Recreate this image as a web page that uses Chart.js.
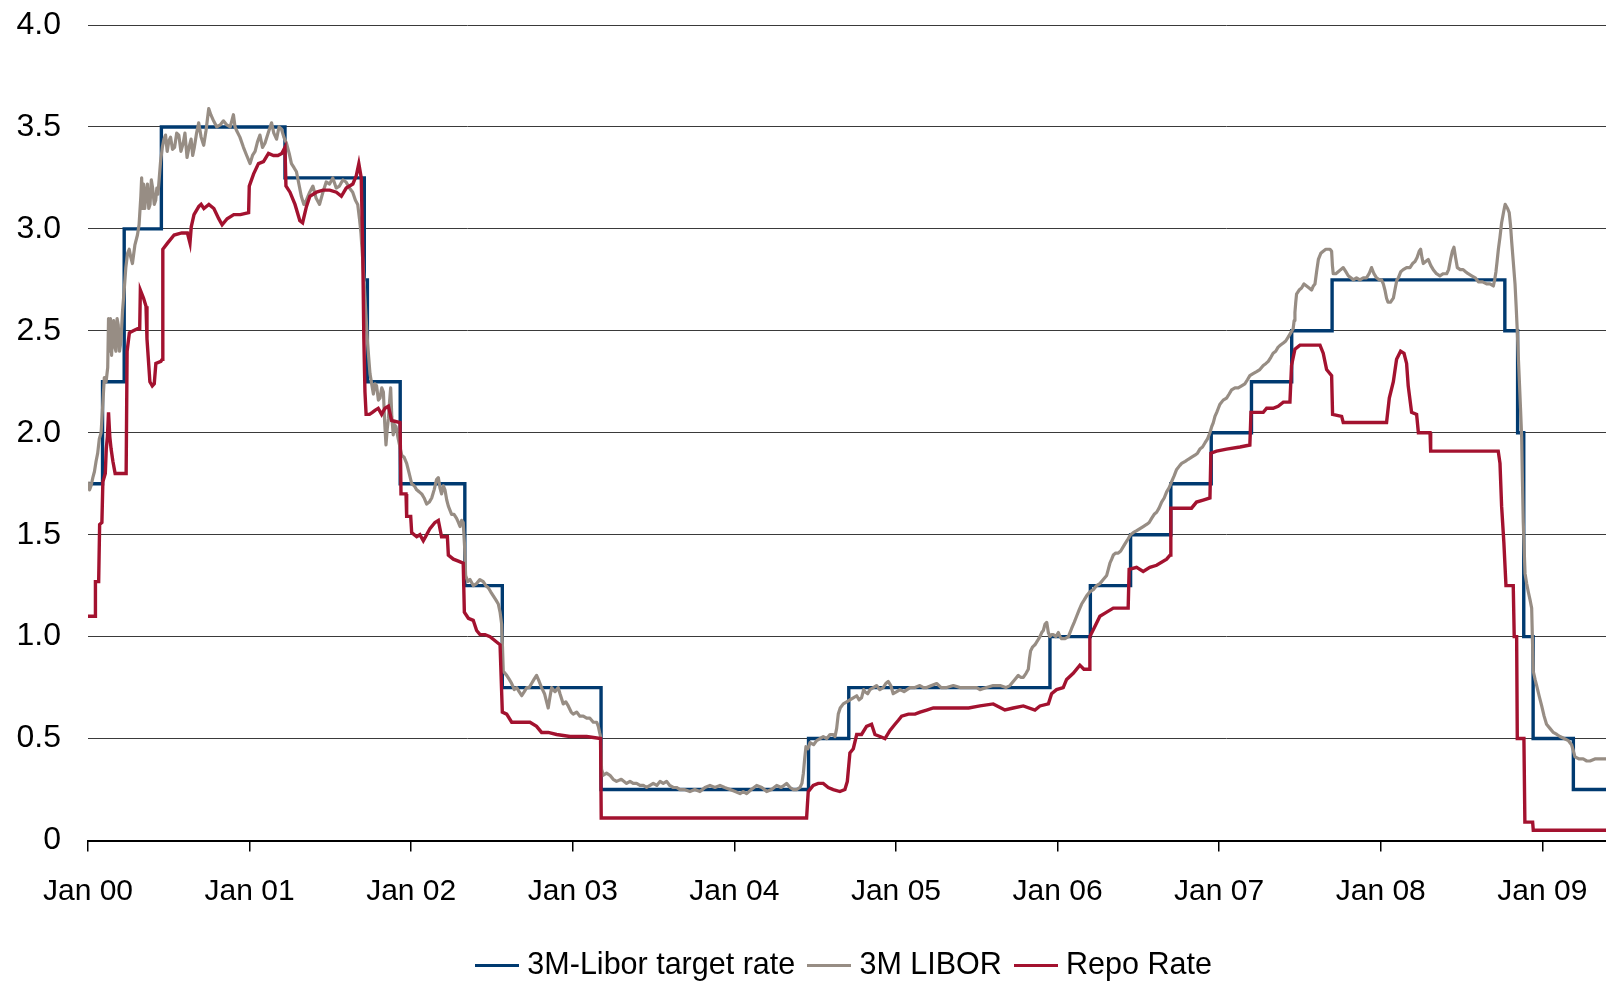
<!DOCTYPE html>
<html>
<head>
<meta charset="utf-8">
<title>CHF money market rates 2000-2009</title>
<style>
  html, body { margin: 0; padding: 0; background: #ffffff; }
  #wrap { width: 1606px; height: 982px; }
  canvas { display: block; }
</style>
<script src="https://cdn.jsdelivr.net/npm/chart.js@4.4.1/dist/chart.umd.min.js"></script>
</head>
<body>
<div id="wrap"><canvas id="rates" width="1606" height="982"></canvas></div>
<script>
// Time axis is in decimal years; ticks sit on 1 January of each year.
const yearTicks = [2000, 2001, 2002, 2003, 2004, 2005, 2006, 2007, 2008, 2009];
const xStart = 2000;
const xEnd = 2009.394;
const yTicks = [0, 0.5, 1, 1.5, 2, 2.5, 3, 3.5, 4];

const seriesNames = ['3M-Libor target rate', '3M LIBOR', 'Repo Rate'];

// SNB target: midpoint of the 3M-Libor band, [decimal year, % from that date on]
const targetRate = [
  [2000.000, 1.75], [2000.090, 2.25], [2000.224, 3.00], [2000.454, 3.50],
  [2001.219, 3.25], [2001.710, 2.75], [2001.729, 2.25], [2001.932, 1.75],
  [2002.332, 1.25], [2002.564, 0.75], [2003.175, 0.25], [2004.459, 0.50],
  [2004.708, 0.75], [2005.953, 1.00], [2006.203, 1.25], [2006.452, 1.50],
  [2006.701, 1.75], [2006.951, 2.00], [2007.200, 2.25], [2007.449, 2.50],
  [2007.699, 2.75], [2008.768, 2.50], [2008.847, 2.00], [2008.885, 1.00],
  [2008.943, 0.50], [2009.192, 0.25], [2009.394, 0.25]
];

// 3M CHF LIBOR fixing, [decimal year, %]
const libor3m = [
  [2000.000,1.76],[2000.010,1.72],[2000.019,1.74],[2000.030,1.78],[2000.040,1.81],[2000.050,1.86],[2000.060,1.90],[2000.070,1.97],
  [2000.081,2.00],[2000.090,2.12],[2000.101,2.27],[2000.112,2.25],[2000.122,2.32],[2000.127,2.56],[2000.132,2.40],[2000.139,2.56],
  [2000.146,2.38],[2000.152,2.50],[2000.159,2.55],[2000.166,2.42],[2000.173,2.40],[2000.180,2.56],[2000.187,2.53],[2000.195,2.40],
  [2000.204,2.45],[2000.214,2.60],[2000.224,2.70],[2000.234,2.81],[2000.245,2.88],[2000.255,2.90],[2000.265,2.86],[2000.275,2.83],
  [2000.290,2.92],[2000.306,2.97],[2000.316,3.02],[2000.327,3.16],[2000.332,3.25],[2000.337,3.10],[2000.344,3.22],[2000.351,3.10],
  [2000.360,3.18],[2000.368,3.22],[2000.376,3.10],[2000.384,3.12],[2000.392,3.24],[2000.400,3.20],[2000.410,3.12],[2000.419,3.14],
  [2000.426,3.20],[2000.433,3.17],[2000.441,3.25],[2000.449,3.33],[2000.460,3.40],[2000.470,3.44],[2000.480,3.46],[2000.490,3.38],
  [2000.500,3.43],[2000.511,3.45],[2000.523,3.39],[2000.536,3.40],[2000.549,3.47],[2000.562,3.46],[2000.575,3.38],[2000.589,3.42],
  [2000.600,3.47],[2000.613,3.35],[2000.625,3.40],[2000.638,3.44],[2000.648,3.36],[2000.658,3.40],[2000.672,3.47],[2000.685,3.52],
  [2000.700,3.45],[2000.716,3.41],[2000.730,3.48],[2000.747,3.59],[2000.760,3.56],[2000.777,3.53],[2000.797,3.50],[2000.818,3.51],
  [2000.838,3.53],[2000.859,3.51],[2000.880,3.50],[2000.900,3.56],[2000.910,3.50],[2000.921,3.48],[2000.940,3.45],[2000.962,3.40],
  [2000.982,3.36],[2001.003,3.32],[2001.018,3.36],[2001.034,3.38],[2001.050,3.43],[2001.064,3.46],[2001.080,3.40],[2001.095,3.42],
  [2001.115,3.47],[2001.136,3.52],[2001.150,3.47],[2001.167,3.44],[2001.182,3.50],[2001.197,3.49],[2001.212,3.45],[2001.228,3.42],
  [2001.245,3.37],[2001.259,3.32],[2001.275,3.30],[2001.290,3.28],[2001.305,3.22],[2001.320,3.16],[2001.336,3.12],[2001.351,3.14],
  [2001.372,3.18],[2001.392,3.21],[2001.412,3.15],[2001.433,3.12],[2001.454,3.18],[2001.474,3.23],[2001.495,3.22],[2001.515,3.25],
  [2001.536,3.20],[2001.556,3.21],[2001.577,3.24],[2001.597,3.23],[2001.618,3.20],[2001.638,3.18],[2001.655,3.14],[2001.669,3.12],
  [2001.680,3.05],[2001.689,2.98],[2001.700,2.85],[2001.710,2.72],[2001.720,2.58],[2001.730,2.44],[2001.745,2.29],[2001.766,2.19],
  [2001.776,2.24],[2001.786,2.23],[2001.797,2.16],[2001.807,2.17],[2001.818,2.22],[2001.828,2.20],[2001.836,2.05],[2001.844,1.94],
  [2001.852,2.02],[2001.859,2.07],[2001.866,2.15],[2001.873,2.22],[2001.880,2.08],[2001.889,1.99],[2001.897,2.04],[2001.906,2.03],
  [2001.920,1.97],[2001.941,1.89],[2001.956,1.88],[2001.972,1.85],[2001.988,1.80],[2002.003,1.75],[2002.019,1.74],[2002.034,1.72],
  [2002.050,1.71],[2002.065,1.70],[2002.080,1.68],[2002.096,1.65],[2002.112,1.66],[2002.127,1.68],[2002.142,1.72],[2002.157,1.77],
  [2002.168,1.78],[2002.178,1.73],[2002.188,1.70],[2002.199,1.74],[2002.209,1.72],[2002.220,1.67],[2002.230,1.64],[2002.250,1.60],
  [2002.265,1.60],[2002.281,1.58],[2002.292,1.56],[2002.302,1.54],[2002.312,1.57],[2002.322,1.56],[2002.330,1.45],[2002.337,1.30],
  [2002.350,1.27],[2002.364,1.28],[2002.385,1.25],[2002.405,1.26],[2002.425,1.28],[2002.446,1.27],[2002.462,1.25],[2002.477,1.24],
  [2002.492,1.22],[2002.508,1.20],[2002.524,1.18],[2002.539,1.16],[2002.550,1.12],[2002.560,1.06],[2002.565,0.95],[2002.570,0.83],
  [2002.591,0.81],[2002.607,0.79],[2002.622,0.77],[2002.638,0.74],[2002.653,0.75],[2002.668,0.73],[2002.684,0.71],[2002.700,0.73],
  [2002.715,0.75],[2002.730,0.75],[2002.745,0.77],[2002.760,0.79],[2002.776,0.81],[2002.792,0.78],[2002.807,0.75],[2002.825,0.72],
  [2002.838,0.68],[2002.848,0.65],[2002.858,0.70],[2002.869,0.75],[2002.890,0.73],[2002.910,0.75],[2002.921,0.72],[2002.941,0.67],
  [2002.957,0.68],[2002.972,0.66],[2002.990,0.63],[2003.003,0.62],[2003.024,0.63],[2003.044,0.61],[2003.065,0.61],[2003.086,0.60],
  [2003.106,0.60],[2003.127,0.58],[2003.148,0.58],[2003.158,0.56],[2003.166,0.53],[2003.172,0.51],[2003.178,0.35],[2003.189,0.32],
  [2003.209,0.33],[2003.230,0.32],[2003.250,0.30],[2003.271,0.29],[2003.300,0.30],[2003.333,0.28],[2003.354,0.29],[2003.374,0.28],
  [2003.395,0.28],[2003.416,0.27],[2003.437,0.27],[2003.457,0.26],[2003.478,0.27],[2003.498,0.28],[2003.520,0.27],[2003.540,0.29],
  [2003.560,0.28],[2003.581,0.29],[2003.600,0.27],[2003.622,0.26],[2003.642,0.26],[2003.663,0.25],[2003.690,0.25],[2003.725,0.24],
  [2003.755,0.25],[2003.787,0.24],[2003.818,0.26],[2003.849,0.27],[2003.880,0.26],[2003.911,0.27],[2003.940,0.26],[2003.973,0.25],
  [2004.005,0.24],[2004.035,0.23],[2004.055,0.24],[2004.076,0.23],[2004.105,0.25],[2004.138,0.27],[2004.170,0.26],[2004.200,0.24],
  [2004.230,0.25],[2004.262,0.27],[2004.290,0.26],[2004.323,0.28],[2004.345,0.26],[2004.365,0.25],[2004.385,0.25],[2004.406,0.26],
  [2004.418,0.28],[2004.427,0.33],[2004.435,0.40],[2004.443,0.46],[2004.455,0.45],[2004.468,0.48],[2004.490,0.47],[2004.509,0.49],
  [2004.530,0.50],[2004.550,0.51],[2004.572,0.50],[2004.592,0.52],[2004.610,0.52],[2004.623,0.51],[2004.633,0.55],[2004.643,0.62],
  [2004.655,0.65],[2004.674,0.67],[2004.695,0.68],[2004.715,0.69],[2004.736,0.70],[2004.757,0.71],[2004.772,0.69],[2004.787,0.70],
  [2004.800,0.74],[2004.808,0.73],[2004.825,0.72],[2004.839,0.74],[2004.860,0.75],[2004.880,0.76],[2004.900,0.74],[2004.921,0.75],
  [2004.937,0.77],[2004.952,0.78],[2004.968,0.76],[2004.983,0.72],[2005.005,0.73],[2005.025,0.74],[2005.050,0.73],[2005.087,0.75],
  [2005.118,0.75],[2005.148,0.76],[2005.170,0.75],[2005.190,0.75],[2005.220,0.76],[2005.252,0.77],[2005.280,0.75],[2005.314,0.75],
  [2005.355,0.76],[2005.396,0.75],[2005.450,0.75],[2005.500,0.75],[2005.520,0.74],[2005.560,0.75],[2005.602,0.76],[2005.644,0.76],
  [2005.680,0.75],[2005.705,0.76],[2005.736,0.79],[2005.757,0.81],[2005.772,0.80],[2005.788,0.80],[2005.805,0.82],[2005.819,0.84],
  [2005.826,0.89],[2005.833,0.93],[2005.846,0.95],[2005.860,0.96],[2005.876,0.98],[2005.891,1.00],[2005.902,1.02],[2005.912,1.03],
  [2005.922,1.06],[2005.933,1.07],[2005.943,1.02],[2005.953,1.00],[2005.963,1.01],[2005.973,1.01],[2005.990,1.00],[2006.005,1.02],
  [2006.015,1.00],[2006.025,0.99],[2006.046,0.99],[2006.067,1.00],[2006.077,1.02],[2006.087,1.04],[2006.103,1.07],[2006.118,1.10],
  [2006.133,1.13],[2006.149,1.16],[2006.165,1.18],[2006.180,1.20],[2006.200,1.22],[2006.221,1.23],[2006.241,1.25],[2006.262,1.26],
  [2006.283,1.28],[2006.304,1.30],[2006.314,1.33],[2006.324,1.36],[2006.335,1.38],[2006.345,1.40],[2006.360,1.41],[2006.376,1.41],
  [2006.391,1.42],[2006.406,1.44],[2006.421,1.46],[2006.437,1.48],[2006.452,1.50],[2006.468,1.51],[2006.490,1.52],[2006.510,1.53],
  [2006.530,1.54],[2006.551,1.55],[2006.567,1.56],[2006.582,1.58],[2006.598,1.60],[2006.613,1.61],[2006.628,1.63],[2006.644,1.66],
  [2006.660,1.68],[2006.675,1.71],[2006.690,1.73],[2006.706,1.76],[2006.722,1.79],[2006.737,1.82],[2006.757,1.84],[2006.768,1.85],
  [2006.790,1.86],[2006.809,1.87],[2006.830,1.88],[2006.850,1.89],[2006.866,1.90],[2006.881,1.92],[2006.897,1.93],[2006.912,1.95],
  [2006.928,1.97],[2006.943,2.00],[2006.954,2.03],[2006.964,2.05],[2006.974,2.08],[2006.985,2.10],[2006.995,2.12],[2007.005,2.14],
  [2007.025,2.16],[2007.046,2.17],[2007.062,2.19],[2007.077,2.21],[2007.098,2.22],[2007.118,2.22],[2007.139,2.23],[2007.159,2.24],
  [2007.175,2.26],[2007.190,2.28],[2007.210,2.29],[2007.232,2.30],[2007.252,2.31],[2007.273,2.33],[2007.290,2.34],[2007.304,2.35],
  [2007.320,2.37],[2007.334,2.39],[2007.350,2.40],[2007.365,2.42],[2007.380,2.43],[2007.397,2.44],[2007.412,2.45],[2007.428,2.47],
  [2007.443,2.49],[2007.458,2.51],[2007.464,2.55],[2007.469,2.59],[2007.474,2.64],[2007.479,2.68],[2007.495,2.70],[2007.510,2.71],
  [2007.525,2.73],[2007.541,2.72],[2007.557,2.71],[2007.572,2.70],[2007.583,2.72],[2007.593,2.73],[2007.603,2.79],[2007.614,2.85],
  [2007.629,2.88],[2007.644,2.89],[2007.660,2.90],[2007.675,2.90],[2007.686,2.90],[2007.696,2.89],[2007.701,2.82],[2007.706,2.78],
  [2007.722,2.78],[2007.737,2.79],[2007.752,2.80],[2007.768,2.81],[2007.784,2.79],[2007.799,2.77],[2007.815,2.76],[2007.830,2.75],
  [2007.850,2.76],[2007.871,2.75],[2007.892,2.76],[2007.912,2.76],[2007.928,2.78],[2007.943,2.81],[2007.958,2.78],[2007.974,2.76],
  [2007.990,2.75],[2008.005,2.75],[2008.016,2.73],[2008.026,2.70],[2008.036,2.66],[2008.045,2.64],[2008.060,2.64],[2008.078,2.66],
  [2008.090,2.71],[2008.100,2.75],[2008.109,2.76],[2008.124,2.79],[2008.139,2.80],[2008.160,2.81],[2008.181,2.81],[2008.197,2.83],
  [2008.212,2.84],[2008.225,2.86],[2008.238,2.89],[2008.247,2.90],[2008.255,2.86],[2008.263,2.83],[2008.278,2.84],[2008.294,2.85],
  [2008.310,2.82],[2008.325,2.80],[2008.345,2.78],[2008.366,2.77],[2008.387,2.78],[2008.408,2.78],[2008.420,2.80],[2008.432,2.85],
  [2008.443,2.89],[2008.453,2.91],[2008.463,2.86],[2008.474,2.81],[2008.492,2.80],[2008.510,2.80],[2008.525,2.79],[2008.541,2.78],
  [2008.563,2.77],[2008.585,2.76],[2008.604,2.74],[2008.630,2.74],[2008.655,2.73],[2008.676,2.73],[2008.697,2.72],[2008.705,2.75],
  [2008.713,2.79],[2008.720,2.84],[2008.728,2.90],[2008.738,2.96],[2008.748,3.03],[2008.762,3.09],[2008.770,3.12],[2008.775,3.12],
  [2008.785,3.10],[2008.795,3.08],[2008.803,3.02],[2008.810,2.94],[2008.820,2.84],[2008.831,2.73],[2008.838,2.62],[2008.845,2.50],
  [2008.851,2.38],[2008.857,2.27],[2008.865,2.12],[2008.872,1.98],[2008.877,1.76],[2008.882,1.56],[2008.888,1.42],[2008.893,1.31],
  [2008.903,1.26],[2008.913,1.22],[2008.924,1.18],[2008.934,1.14],[2008.939,0.98],[2008.944,0.83],[2008.955,0.79],[2008.965,0.76],
  [2008.980,0.71],[2008.996,0.66],[2009.011,0.61],[2009.026,0.57],[2009.047,0.55],[2009.068,0.53],[2009.090,0.52],[2009.109,0.51],
  [2009.135,0.50],[2009.161,0.49],[2009.171,0.48],[2009.181,0.47],[2009.192,0.44],[2009.202,0.41],[2009.228,0.40],[2009.253,0.40],
  [2009.275,0.39],[2009.295,0.39],[2009.325,0.40],[2009.357,0.40],[2009.394,0.40]
];

// SNB repo rate, [decimal year, %]
const repoRate = [
  [2000.000,1.10],[2000.045,1.10],[2000.046,1.27],[2000.066,1.27],[2000.072,1.55],[2000.086,1.56],[2000.092,1.76],[2000.107,1.80],
  [2000.113,1.92],[2000.120,1.98],[2000.127,2.10],[2000.135,1.98],[2000.143,1.92],[2000.154,1.86],[2000.168,1.80],[2000.236,1.80],
  [2000.242,2.40],[2000.256,2.49],[2000.280,2.50],[2000.307,2.51],[2000.320,2.51],[2000.324,2.70],[2000.344,2.66],[2000.359,2.62],
  [2000.365,2.46],[2000.383,2.25],[2000.398,2.23],[2000.410,2.24],[2000.420,2.34],[2000.451,2.35],[2000.459,2.36],[2000.463,2.90],
  [2000.492,2.93],[2000.533,2.97],[2000.580,2.98],[2000.615,2.98],[2000.631,2.93],[2000.639,3.01],[2000.656,3.07],[2000.686,3.11],
  [2000.700,3.12],[2000.717,3.10],[2000.748,3.12],[2000.779,3.10],[2000.809,3.05],[2000.830,3.02],[2000.861,3.05],[2000.902,3.07],
  [2000.943,3.07],[2000.994,3.08],[2000.998,3.21],[2001.025,3.27],[2001.055,3.32],[2001.086,3.33],[2001.117,3.37],[2001.148,3.36],
  [2001.175,3.36],[2001.199,3.37],[2001.219,3.40],[2001.225,3.21],[2001.250,3.18],[2001.281,3.12],[2001.311,3.04],[2001.328,3.03],
  [2001.352,3.11],[2001.373,3.16],[2001.414,3.18],[2001.455,3.19],[2001.496,3.19],[2001.537,3.18],[2001.568,3.16],[2001.598,3.20],
  [2001.639,3.22],[2001.660,3.26],[2001.676,3.32],[2001.691,3.25],[2001.700,2.90],[2001.707,2.46],[2001.714,2.20],[2001.721,2.09],
  [2001.742,2.09],[2001.760,2.10],[2001.776,2.11],[2001.796,2.12],[2001.817,2.09],[2001.838,2.12],[2001.859,2.13],[2001.879,2.06],
  [2001.931,2.05],[2001.937,1.70],[2001.968,1.70],[2001.972,1.59],[2001.997,1.59],[2002.003,1.51],[2002.034,1.49],[2002.054,1.50],
  [2002.075,1.47],[2002.096,1.50],[2002.116,1.53],[2002.147,1.56],[2002.168,1.57],[2002.188,1.49],[2002.224,1.49],[2002.230,1.40],
  [2002.261,1.38],[2002.292,1.37],[2002.322,1.36],[2002.329,1.12],[2002.354,1.09],[2002.384,1.08],[2002.405,1.03],[2002.426,1.01],
  [2002.457,1.01],[2002.488,1.00],[2002.519,0.98],[2002.550,0.96],[2002.564,0.63],[2002.591,0.62],[2002.622,0.58],[2002.673,0.58],
  [2002.735,0.58],[2002.776,0.56],[2002.807,0.53],[2002.848,0.53],[2002.900,0.52],[2002.983,0.51],[2003.086,0.51],[2003.172,0.50],
  [2003.176,0.11],[2004.447,0.11],[2004.457,0.24],[2004.488,0.27],[2004.519,0.28],[2004.550,0.28],[2004.581,0.26],[2004.612,0.25],
  [2004.653,0.24],[2004.684,0.25],[2004.699,0.29],[2004.715,0.43],[2004.736,0.45],[2004.757,0.52],[2004.787,0.52],[2004.818,0.56],
  [2004.849,0.57],[2004.870,0.52],[2004.901,0.51],[2004.932,0.50],[2004.963,0.54],[2004.994,0.57],[2005.015,0.59],[2005.035,0.61],
  [2005.077,0.62],[2005.118,0.62],[2005.149,0.63],[2005.190,0.64],[2005.231,0.65],[2005.300,0.65],[2005.396,0.65],[2005.450,0.65],
  [2005.520,0.66],[2005.602,0.67],[2005.674,0.64],[2005.726,0.65],[2005.788,0.66],[2005.860,0.64],[2005.891,0.66],[2005.943,0.67],
  [2005.963,0.72],[2005.994,0.74],[2006.035,0.75],[2006.056,0.79],[2006.097,0.82],[2006.138,0.86],[2006.163,0.84],[2006.196,0.84],
  [2006.200,1.00],[2006.231,1.05],[2006.262,1.10],[2006.304,1.12],[2006.345,1.14],[2006.437,1.14],[2006.443,1.33],[2006.489,1.34],
  [2006.530,1.32],[2006.571,1.34],[2006.613,1.35],[2006.675,1.38],[2006.696,1.40],[2006.701,1.63],[2006.757,1.63],[2006.829,1.63],
  [2006.860,1.66],[2006.901,1.67],[2006.943,1.68],[2006.949,1.90],[2006.984,1.91],[2007.046,1.92],[2007.129,1.93],[2007.190,1.94],
  [2007.197,2.10],[2007.273,2.10],[2007.294,2.12],[2007.334,2.12],[2007.365,2.13],[2007.397,2.15],[2007.438,2.15],[2007.448,2.33],
  [2007.469,2.41],[2007.500,2.43],[2007.624,2.43],[2007.644,2.39],[2007.665,2.31],[2007.696,2.28],[2007.702,2.09],[2007.758,2.08],
  [2007.768,2.05],[2008.036,2.05],[2008.053,2.17],[2008.078,2.25],[2008.098,2.36],[2008.123,2.40],[2008.144,2.39],[2008.160,2.34],
  [2008.170,2.23],[2008.191,2.10],[2008.222,2.09],[2008.233,2.00],[2008.305,2.00],[2008.309,1.91],[2008.727,1.91],[2008.738,1.85],
  [2008.748,1.64],[2008.762,1.46],[2008.775,1.25],[2008.820,1.25],[2008.826,1.00],[2008.841,1.00],[2008.845,0.50],[2008.886,0.50],
  [2008.892,0.09],[2008.940,0.09],[2008.944,0.05],[2009.394,0.05]
];

const colors = ['#003a70', '#978d84', '#a3122f'];

const toPoints = pairs => pairs.map(([x, y]) => ({ x, y }));
const twoDigits = y => String(y % 100).padStart(2, '0');

// Legend key: a short horizontal stroke in the series colour
function legendStroke(color) {
  const c = document.createElement('canvas');
  c.width = 44;
  c.height = 3;
  const g = c.getContext('2d');
  g.fillStyle = color;
  g.fillRect(0, 0, c.width, c.height);
  return c;
}
const legendKeys = colors.map(legendStroke);

Chart.defaults.font.family = '"Liberation Sans", Arial, Helvetica, sans-serif';
Chart.defaults.font.size = 30;
Chart.defaults.color = '#000000';

new Chart(document.getElementById('rates'), {
  type: 'line',
  data: {
    datasets: [
      {
        label: seriesNames[0],
        data: toPoints(targetRate),
        stepped: true,
        borderColor: colors[0],
        backgroundColor: colors[0],
        borderWidth: 3.4,
        pointRadius: 0,
        order: 2
      },
      {
        label: seriesNames[1],
        data: toPoints(libor3m),
        borderColor: colors[1],
        backgroundColor: colors[1],
        borderWidth: 3.2,
        borderJoinStyle: 'round',
        pointRadius: 0,
        order: 1
      },
      {
        label: seriesNames[2],
        data: toPoints(repoRate),
        borderColor: colors[2],
        backgroundColor: colors[2],
        borderWidth: 3.4,
        pointRadius: 0,
        order: 0
      }
    ]
  },
  options: {
    responsive: false,
    animation: false,
    events: [],
    layout: { padding: { top: 25, right: 0, bottom: -9, left: 0 } },
    plugins: {
      tooltip: { enabled: false },
      legend: {
        position: 'bottom',
        fullSize: false,
        labels: {
          usePointStyle: true,
          pointStyleWidth: 30,
          padding: 19,
          color: '#000000',
          font: { size: 30.5 },
          sort: (a, b) => a.datasetIndex - b.datasetIndex,
          generateLabels: chart =>
            Chart.defaults.plugins.legend.labels.generateLabels(chart).map(item =>
              Object.assign(item, { pointStyle: legendKeys[item.datasetIndex] }))
        }
      }
    },
    scales: {
      x: {
        type: 'linear',
        min: xStart,
        max: xEnd,
        afterBuildTicks: axis => { axis.ticks = yearTicks.map(v => ({ value: v })); },
        afterFit: axis => {
          axis.height = 91;
          axis.paddingLeft = 0;
          axis.paddingRight = 0;
        },
        ticks: {
          autoSkip: false,
          maxRotation: 0,
          padding: 22,
          color: '#000000',
          font: { size: 30 },
          callback: v => 'Jan ' + twoDigits(v)
        },
        grid: {
          drawOnChartArea: false,
          drawTicks: true,
          tickLength: 11,
          color: '#000000',
          lineWidth: 1.5
        },
        border: { display: true, color: '#000000', width: 2 }
      },
      y: {
        min: 0,
        max: 4,
        afterBuildTicks: axis => { axis.ticks = yTicks.map(v => ({ value: v })); },
        afterFit: axis => {
          axis.width = 88;
          axis.paddingTop = 0;
          axis.paddingBottom = 0;
        },
        ticks: {
          padding: 27,
          color: '#000000',
          font: { size: 32 },
          callback: v => (v === 0 ? '0' : v.toFixed(1))
        },
        grid: { drawTicks: false, color: '#3a3a3a', lineWidth: 1 },
        border: { display: false }
      }
    }
  }
});
</script>
</body>
</html>
